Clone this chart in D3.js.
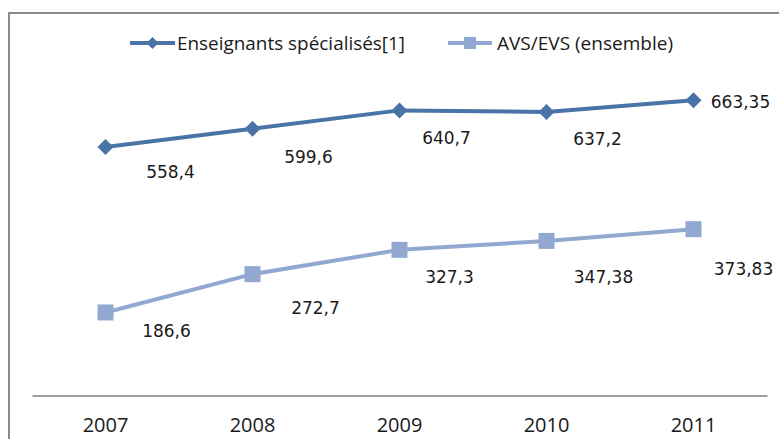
<!DOCTYPE html>
<html>
<head>
<meta charset="utf-8">
<script src="https://cdn.jsdelivr.net/npm/d3@7"></script>
<style>
  html, body { margin: 0; padding: 0; background: #fff; }
  svg { display: block; }
</style>
</head>
<body>
<svg id="chart" width="779" height="439"></svg>
<script>
// Years on the horizontal axis
const years = ["2007", "2008", "2009", "2010", "2011"];

// Series values (thousands)
const enseignants = [558.4, 599.6, 640.7, 637.2, 663.35];
const avsEvs = [186.6, 272.7, 327.3, 347.38, 373.83];

// Series names as shown in the legend
const seriesNames = ["Enseignants spécialisés[1]", "AVS/EVS (ensemble)"];

// Placement of each value label relative to its point: [dx, dy]
const labelOffsetsEns = [[65, 31], [56, 34], [47, 34], [51, 33], [47, 8]];
const labelOffsetsAvs = [[61, 25], [63, 40], [50, 33], [57, 42], [50, 46]];

const fmt = v => String(v).replace(".", ",");

const svg = d3.select("#chart");
const W = 779, H = 439;

// Chart frame
svg.append("rect")
  .attr("x", 9).attr("y", 13)
  .attr("width", W + 20).attr("height", H + 20)
  .attr("fill", "#fff")
  .attr("stroke", "#8a8a8a")
  .attr("stroke-width", 2);

const x = d3.scaleBand().domain(years).range([32, 767]).padding(0);
const y = d3.scaleLinear().domain([0, 800]).range([395.5, 39.5]);
const cx = d => x(d) + x.bandwidth() / 2;

// Category axis
const xAxis = d3.axisBottom(x).tickSize(0).tickPadding(0);
const gx = svg.append("g").attr("transform", `translate(0,${y(0)})`).call(xAxis);
gx.select(".domain").attr("stroke", "#7f7f7f").attr("stroke-width", 1.3);
gx.selectAll(".tick text")
  .attr("y", 36)
  .attr("dy", null)
  .attr("font-family", "'Open Sans', sans-serif")
  .attr("font-size", 20)
  .attr("fill", "#1a1a1a");

const series = [
  { name: seriesNames[0], values: enseignants, color: "#4a73a8", shape: "diamond", offsets: labelOffsetsEns },
  { name: seriesNames[1], values: avsEvs, color: "#93a8d0", shape: "square", offsets: labelOffsetsAvs }
];

const line = d3.line().x(d => cx(d.year)).y(d => y(d.value));

function drawMarker(g, shape, px, py, size, color) {
  if (shape === "diamond") {
    const r = size / 2;
    g.append("path")
      .attr("d", `M${px},${py - r}L${px + r},${py}L${px},${py + r}L${px - r},${py}Z`)
      .attr("fill", color);
  } else {
    g.append("rect")
      .attr("x", px - size / 2).attr("y", py - size / 2)
      .attr("width", size).attr("height", size)
      .attr("fill", color);
  }
}

series.forEach(s => {
  const pts = s.values.map((v, i) => ({ year: years[i], value: v }));
  const g = svg.append("g");
  g.append("path")
    .datum(pts)
    .attr("d", line)
    .attr("fill", "none")
    .attr("stroke", s.color)
    .attr("stroke-width", 4)
    .attr("stroke-linejoin", "round");
  pts.forEach(p => {
    drawMarker(g, s.shape, cx(p.year), y(p.value), s.shape === "diamond" ? 16 : 16, s.color);
  });
  g.selectAll("text.val")
    .data(pts)
    .join("text")
    .attr("class", "val")
    .attr("x", (p, i) => cx(p.year) + s.offsets[i][0])
    .attr("y", (p, i) => y(p.value) + s.offsets[i][1])
    .attr("text-anchor", "middle")
    .attr("font-family", "'DejaVu Sans', sans-serif")
    .attr("font-size", 17)
    .attr("fill", "#1a1a1a")
    .text(p => fmt(p.value));
});

// Legend
const legendItems = [
  { s: series[0], x0: 130, x1: 175, tx: 177, tw: 228 },
  { s: series[1], x0: 448, x1: 492, tx: 497, tw: 176 }
];
const lg = svg.append("g");
legendItems.forEach(it => {
  const ly = 43;
  lg.append("line")
    .attr("x1", it.x0).attr("x2", it.x1)
    .attr("y1", ly).attr("y2", ly)
    .attr("stroke", it.s.color).attr("stroke-width", 4);
  drawMarker(lg, it.s.shape, (it.x0 + it.x1) / 2, ly, it.s.shape === "diamond" ? 12 : 12, it.s.color);
  lg.append("text")
    .attr("x", it.tx).attr("y", ly + 7)
    .attr("font-family", "'Open Sans', sans-serif")
    .attr("font-size", 18)
    .attr("fill", "#1a1a1a")
    .attr("textLength", it.tw)
    .attr("lengthAdjust", "spacingAndGlyphs")
    .text(it.s.name);
});
</script>
</body>
</html>
